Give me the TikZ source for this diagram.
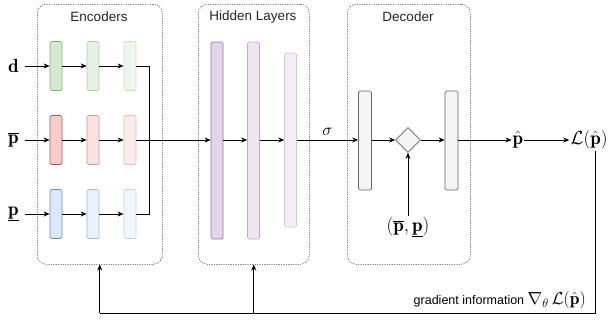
\RequirePackage{fix-cm}
\documentclass[tikz,border=0pt]{standalone}
\usepackage{fontspec}
\setsansfont{Liberation Sans}
\usetikzlibrary{arrows.meta,shapes.geometric}
\definecolor{gF}{HTML}{D5E8D4}\definecolor{gS}{HTML}{82B366}
\definecolor{rF}{HTML}{F8CECC}\definecolor{rS}{HTML}{B85450}
\definecolor{bF}{HTML}{DAE8FC}\definecolor{bS}{HTML}{6C8EBF}
\definecolor{pF}{HTML}{E1D5E7}\definecolor{pS}{HTML}{9673A6}
\definecolor{kF}{HTML}{F5F5F5}\definecolor{kS}{HTML}{666666}
\begin{document}
\begin{tikzpicture}[x=1pt,y=-1pt,
  bar/.style={draw, rounded corners=1.5pt, minimum width=12pt, inner sep=0pt, line width=0.7pt},
  ebar/.style={bar, minimum height=49pt},
  hbar/.style={bar, minimum height=197pt},
  dbar/.style={bar, minimum width=13pt, minimum height=99pt, fill=kF, draw=kS},
  box/.style={draw=black!75, dash pattern=on 1.2pt off 1.2pt, rounded corners=9pt, line width=0.5pt, minimum height=260pt, anchor=north west, inner sep=0pt},
  arr/.style={-{Stealth[length=6pt,width=5pt]}, line width=0.7pt},
  ln/.style={line width=0.7pt},
  ttl/.style={font=\sffamily\fontsize{13.5}{16}\selectfont, text=black!85},
  lbl/.style={font=\fontsize{19}{22}\selectfont, inner sep=1pt}]
\useasboundingbox (0,0) rectangle (610,322);
% boxes
\node[box, minimum width=125pt] (encbox) at (37,4) {};
\node[box, minimum width=111pt] (hidbox) at (198,4) {};
\node[box, minimum width=123pt] (decbox) at (347,4) {};
\node[ttl] (enct) at (99,17) {Encoders};
\node[ttl] (hidt) at (253,17) {Hidden Layers};
\node[ttl] (dect) at (408,17) {Decoder};
% encoder bars
\node[ebar, fill=gF, draw=gS] (g1) at (56,66) {};
\node[ebar, fill=gF!60!white, draw=gS!60!white] (g2) at (93,66) {};
\node[ebar, fill=gF!40!white, draw=gS!40!white] (g3) at (130,66) {};
\node[ebar, fill=rF, draw=rS] (r1) at (56,140) {};
\node[ebar, fill=rF!60!white, draw=rS!60!white] (r2) at (93,140) {};
\node[ebar, fill=rF!40!white, draw=rS!40!white] (r3) at (130,140) {};
\node[ebar, fill=bF, draw=bS] (b1) at (56,214) {};
\node[ebar, fill=bF!60!white, draw=bS!60!white] (b2) at (93,214) {};
\node[ebar, fill=bF!40!white, draw=bS!40!white] (b3) at (130,214) {};
% inputs
\node[lbl, anchor=east] (din) at (20,66) {$\mathbf{d}$};
\node[lbl, anchor=east] (pbin) at (20,140) {$\overline{\mathbf{p}}$};
\node[lbl, anchor=east] (puin) at (20,214) {$\underline{\mathbf{p}}$};
\draw[arr] (din.east -| 25,0) -- (g1);
\draw[arr] (pbin.east -| 25,0) -- (r1);
\draw[arr] (puin.east -| 25,0) -- (b1);
\draw[arr] (g1) -- (g2); \draw[arr] (g2) -- (g3);
\draw[arr] (r1) -- (r2); \draw[arr] (r2) -- (r3);
\draw[arr] (b1) -- (b2); \draw[arr] (b2) -- (b3);
% hidden bars
\node[hbar, fill=pF, draw=pS] (h1) at (217,140.5) {};
\node[hbar, fill=pF!60!white, draw=pS!60!white] (h2) at (253.5,140.5) {};
\node[bar, minimum height=174pt, fill=pF!40!white, draw=pS!40!white] (h3) at (290.5,140) {};
\coordinate (mrg) at (149,140);
\draw[ln] (g3.east) -| (mrg);
\draw[ln] (b3.east) -| (mrg);
\draw[arr] (r3.east) -- (h1.west |- r3.east);
\draw[arr] (h1.east |- mrg) -- (h2.west |- mrg);
\draw[arr] (h2.east |- mrg) -- (h3.west |- mrg);
% decoder
\node[dbar] (d1) at (365,140.5) {};
\node[diamond, draw=kS, fill=kF, line width=0.7pt, minimum width=25pt, minimum height=25pt, inner sep=0pt] (dia) at (408,140) {};
\node[dbar] (d2) at (451.5,140.5) {};
\draw[arr] (h3.east |- mrg) -- node[above=4pt, font=\fontsize{17}{19}\selectfont, inner sep=0pt] (sig) {$\sigma$} (d1.west |- mrg);
\draw[arr] (d1.east |- dia) -- (dia.west);
\draw[arr] (dia.east) -- (d2.west |- dia);
\node[lbl] (pp) at (408,227) {$(\overline{\mathbf{p}},\underline{\mathbf{p}})$};
\draw[arr] (pp.north) -- (dia.south);
\node[lbl] (ph) at (518,140) {$\hat{\mathbf{p}}$};
\node[lbl] (L) at (589,140) {$\mathcal{L}(\hat{\mathbf{p}})$};
\draw[arr] (d2.east |- dia) -- (ph.west);
\draw[arr] (ph.east) -- (L.west);
% feedback
\coordinate (c1) at (595,313);
\coordinate (c2) at (encbox.south |- c1);
\coordinate (c3) at (hidbox.south |- c1);
\draw[ln] (L.south -| c1) -- (c1) -- (c2);
\draw[arr] (c2) -- (encbox.south);
\draw[arr] (c3) -- (hidbox.south);
\node[anchor=east, font=\sffamily\fontsize{12.5}{15}\selectfont, inner sep=0pt] (grad) at (586,300) {gradient information {\fontsize{17.5}{19}\selectfont$\nabla_{\theta}\,\mathcal{L}(\hat{\mathbf{p}})$}};
\end{tikzpicture}
\end{document}
